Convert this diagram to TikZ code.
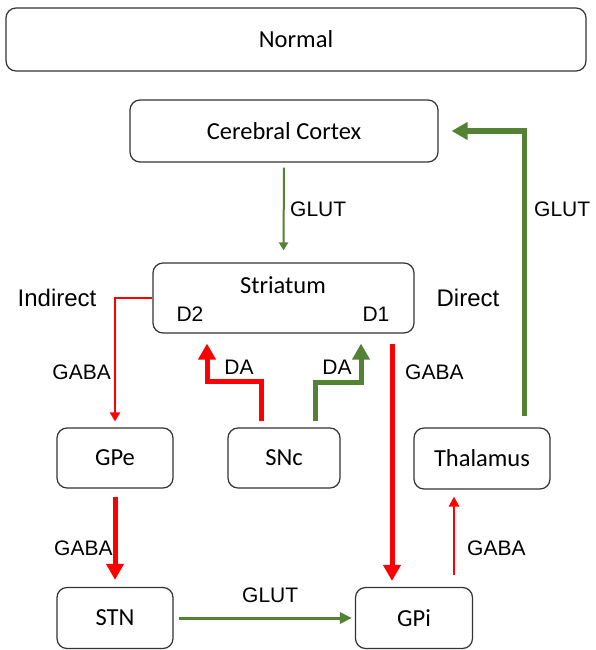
\documentclass[tikz,border=0pt]{standalone}
\usepackage{fontspec}
\setmainfont{Carlito}
\newfontfamily\labelfont{Liberation Sans}
\usetikzlibrary{arrows.meta}

\definecolor{glutgreen}{RGB}{84,130,53}
\definecolor{gabared}{RGB}{255,0,0}

\begin{document}
\begin{tikzpicture}[x=1pt, y=-1pt,
  box/.style={draw=black!80, line width=1.2pt, rounded corners=10pt, fill=white, inner sep=0pt, font=\fontsize{24.5}{27}\selectfont},
  tag/.style={inner sep=0pt, font=\labelfont\fontsize{21}{24}\selectfont},
  side/.style={inner sep=0pt, font=\labelfont\fontsize{24}{28}\selectfont},
  glut/.style={draw=glutgreen},
  gaba/.style={draw=gabared}]

\fill[white] (0,0) rectangle (595,650);
\useasboundingbox (0,0) rectangle (595,650);

% boxes
\node[box, minimum width=580pt, minimum height=63pt] (normal) at (296,39.5) {Normal};
\node[box, minimum width=308pt, minimum height=62pt] (ctx)  at (284,131)   {Cerebral Cortex};
\node[box, minimum width=261pt, minimum height=70pt] (str)  at (283.5,298) {};
\node[box, minimum width=116pt, minimum height=60pt] (gpe)  at (115,458)   {GPe};
\node[box, minimum width=112pt, minimum height=60pt] (snc)  at (284,458)   {SNc};
\node[box, minimum width=136pt, minimum height=61pt] (thal) at (482,458.5) {Thalamus};
\node[box, minimum width=116pt, minimum height=61pt] (stn)  at (115,618)   {STN};
\node[box, minimum width=117pt, minimum height=61pt] (gpi)  at (414,618)   {GPi};

\node[inner sep=0pt, font=\fontsize{24.5}{27}\selectfont] (strname) at (283,285) {Striatum};
\node[tag] (d2) at (190,314) {D2};
\node[tag] (d1) at (376,314) {D1};

\node[side] (indirect) at (57,298) {Indirect};
\node[side] (direct)   at (468,298) {Direct};

% connectors
\begin{scope}[line cap=butt]
\draw[glut, line width=2pt, -{Triangle[length=8pt,width=9pt]}] ([yshift=-5pt]ctx.south) -- ([yshift=12pt]str.north);
\draw[glut, line width=5pt, -{Triangle[length=16pt,width=17pt]}] ([xshift=42pt,yshift=11pt]thal.north) |- ([xshift=13pt]ctx.east);
\draw[gaba, line width=2.5pt, -{Triangle[length=9pt,width=10pt]}] (str.west) -| ([yshift=6pt]gpe.north);
\draw[gaba, line width=5pt, -{Triangle[length=16pt,width=17pt]}] ([xshift=-23pt,yshift=6pt]snc.north) -- ++(0,-40) -| ([xshift=-76.5pt,yshift=-10pt]str.south);
\draw[glut, line width=5pt, -{Triangle[length=16pt,width=17pt]}] ([xshift=31pt,yshift=6pt]snc.north) -- ++(0,-39) -| ([xshift=77.5pt,yshift=-10pt]str.south);
\draw[gaba, line width=5pt, -{Triangle[length=16pt,width=17pt]}] ([xshift=108.5pt,yshift=-10pt]str.south) -- ([xshift=-22pt,yshift=6pt]gpi.north);
\draw[gaba, line width=5pt, -{Triangle[length=16pt,width=17pt]}] ([yshift=-8pt]gpe.south) -- ([yshift=7pt]stn.north);
\draw[glut, line width=3pt, -{Triangle[length=12pt,width=11pt]}] ([xshift=5pt]stn.east) -- ([xshift=-3pt]gpi.west);
\draw[gaba, line width=2.5pt, -{Triangle[length=10pt,width=10pt]}] ([xshift=40pt,yshift=12pt]gpi.north) -- ([xshift=-28pt,yshift=-7pt]thal.south);
\end{scope}

% transmitter labels
\node[tag, anchor=west] (glutin)  at (290,209) {GLUT};
\node[tag, anchor=west] (glutout) at (534,209) {GLUT};
\node[tag, anchor=east] (gabaind) at (111,372) {GABA};
\node[tag] (dad2) at (239,367) {DA};
\node[tag] (dad1) at (337,367) {DA};
\node[tag, anchor=west] (gabadir) at (405,372) {GABA};
\node[tag, anchor=west] (gabastn) at (54,548)  {GABA};
\node[tag, anchor=west] (glutstn) at (242,595) {GLUT};
\node[tag, anchor=west] (gabathal) at (467,548) {GABA};

\end{tikzpicture}
\end{document}
